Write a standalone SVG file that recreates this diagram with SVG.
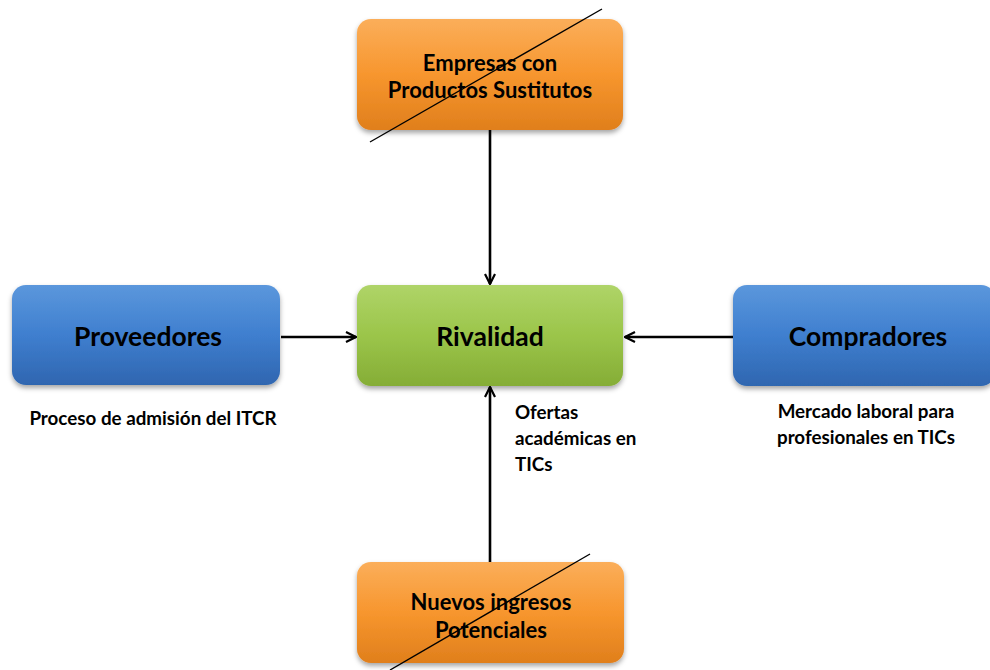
<svg xmlns="http://www.w3.org/2000/svg" width="990" height="670" viewBox="0 0 990 670">
<defs>
<linearGradient id="gBlue" x1="0" y1="0" x2="0" y2="1">
<stop offset="0" stop-color="#5b97dc"/><stop offset="0.5" stop-color="#3f7fcf"/><stop offset="1" stop-color="#2f66b0"/>
</linearGradient>
<linearGradient id="gOrange" x1="0" y1="0" x2="0" y2="1">
<stop offset="0" stop-color="#fbae5a"/><stop offset="0.5" stop-color="#f7962e"/><stop offset="1" stop-color="#e07f1c"/>
</linearGradient>
<linearGradient id="gGreen" x1="0" y1="0" x2="0" y2="1">
<stop offset="0" stop-color="#afd468"/><stop offset="0.5" stop-color="#9bc54a"/><stop offset="1" stop-color="#85ad36"/>
</linearGradient>
<filter id="sh" x="-10%" y="-10%" width="120%" height="130%">
<feDropShadow dx="0" dy="3" stdDeviation="2.5" flood-color="#000" flood-opacity="0.35"/>
</filter>
<marker id="arr" viewBox="0 0 12 12" refX="11" refY="6" markerWidth="12" markerHeight="12" markerUnits="userSpaceOnUse" orient="auto">
<path d="M1,1 L11,6 L1,11" fill="none" stroke="#000" stroke-width="2.2"/>
</marker>
</defs>
<style>
.t{font-family:Lato,"Open Sans","Liberation Sans",sans-serif;font-weight:bold;fill:#000;text-anchor:middle}
.big{font-size:26.5px}
.mid{font-size:22px}
.lab{font-family:Lato,"Open Sans","Liberation Sans",sans-serif;font-weight:bold;fill:#000;font-size:18.8px}
.con{stroke:#000;stroke-width:2.6;fill:none}
.x{stroke:#000;stroke-width:1.4}
</style>
<rect width="990" height="670" fill="#fff"/>
<g id="connectors">
<line class="con" x1="490" y1="130" x2="490" y2="284" marker-end="url(#arr)"/>
<line class="con" x1="281" y1="337" x2="356" y2="337" marker-end="url(#arr)"/>
<line class="con" x1="733" y1="337" x2="625" y2="337" marker-end="url(#arr)"/>
<line class="con" x1="490" y1="562" x2="490" y2="387" marker-end="url(#arr)"/>
</g>
<g id="n-empresas">
<rect x="357" y="19" width="266" height="111" rx="14" fill="url(#gOrange)" filter="url(#sh)"/>
<text class="t mid" x="490" y="71">Empresas con</text>
<text class="t mid" x="490" y="98">Productos Sustitutos</text>
<line class="x" x1="370" y1="142" x2="602" y2="9"/>
</g>
<g id="n-proveedores">
<rect x="12" y="285" width="268" height="100" rx="14" fill="url(#gBlue)" filter="url(#sh)"/>
<text class="t big" x="148" y="346">Proveedores</text>
</g>
<g id="n-rivalidad">
<rect x="357" y="285" width="266" height="101" rx="14" fill="url(#gGreen)" filter="url(#sh)"/>
<text class="t big" x="490" y="346">Rivalidad</text>
</g>
<g id="n-compradores">
<rect x="733" y="285" width="262" height="101" rx="14" fill="url(#gBlue)" filter="url(#sh)"/>
<text class="t big" x="868" y="346">Compradores</text>
</g>
<g id="n-nuevos">
<rect x="357" y="562" width="267" height="101" rx="14" fill="url(#gOrange)" filter="url(#sh)"/>
<text class="t mid" x="491" y="610">Nuevos ingresos</text>
<text class="t mid" x="491" y="638">Potenciales</text>
<line class="x" x1="390" y1="670" x2="590" y2="554"/>
</g>
<g id="labels">
<text class="lab" x="153" y="425" text-anchor="middle">Proceso de admisión del ITCR</text>
<text class="lab" x="515" y="419">Ofertas</text>
<text class="lab" x="515" y="445">académicas en</text>
<text class="lab" x="515" y="471">TICs</text>
<text class="lab" x="866" y="418" text-anchor="middle">Mercado laboral para</text>
<text class="lab" x="866" y="444" text-anchor="middle">profesionales en TICs</text>
</g>
</svg>
